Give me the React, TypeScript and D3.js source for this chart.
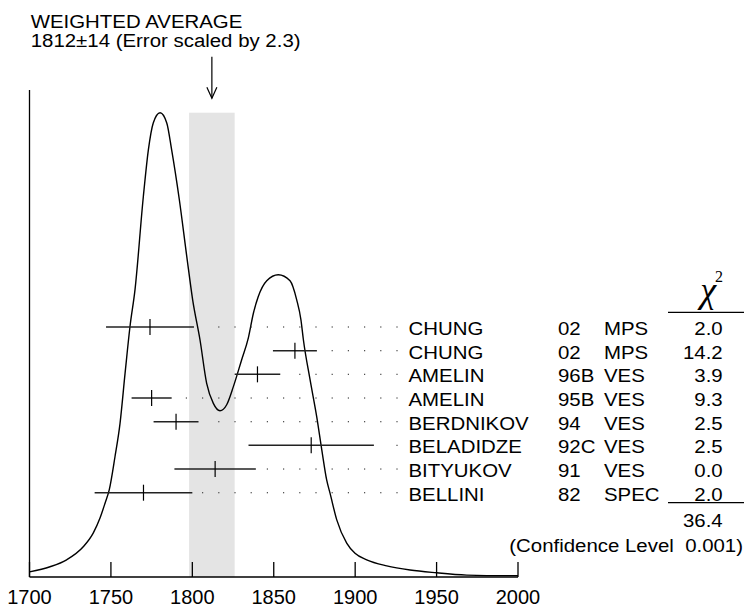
import React from 'react';
import * as d3 from 'd3';

// ideogram curve (mass, relative density)
const curveMass = [
  1700, 1712.6, 1722.8, 1733, 1739.2, 1743.3, 1746.4, 1749, 1752.5, 1755.6, 1758.7, 1761.7,
  1764.8, 1769.9, 1773, 1776, 1780.2, 1784.3, 1787.3, 1792, 1796.6, 1800.2, 1804.7, 1808.8,
  1812.9, 1817, 1821.1, 1825.2, 1830.3, 1834.4, 1837.5, 1840.5, 1845.7, 1852.8, 1860, 1864.1,
  1866.7, 1868.2, 1872.3, 1876.4, 1879.5, 1882.5, 1884.6, 1888.7, 1894.8, 1899.9, 1907.1,
  1919.4, 1933.7, 1950.1, 1968.5, 1980.8, 2000,
];
const curveDensity = [
  0.011, 0.022, 0.037, 0.065, 0.095, 0.127, 0.159, 0.188, 0.259, 0.331, 0.439, 0.539,
  0.619, 0.819, 0.92, 0.978, 1.0, 0.978, 0.92, 0.813, 0.69, 0.597, 0.511, 0.417,
  0.374, 0.358, 0.371, 0.41, 0.468, 0.515, 0.568, 0.604, 0.638, 0.651, 0.638, 0.597,
  0.554, 0.511, 0.425, 0.345, 0.274, 0.209, 0.18, 0.123, 0.073, 0.051, 0.037,
  0.024, 0.015, 0.009, 0.004, 0.003, 0.003,
];

// measurements
const names = ['CHUNG', 'CHUNG', 'AMELIN', 'AMELIN', 'BERDNIKOV', 'BELADIDZE', 'BITYUKOV', 'BELLINI'];
const years = ['02', '02', '96B', '95B', '94', '92C', '91', '82'];
const experiments = ['MPS', 'MPS', 'VES', 'VES', 'VES', 'VES', 'VES', 'SPEC'];
const values = [1774, 1863, 1840, 1775, 1790, 1873, 1814, 1770];
const errors = [27, 13.5, 14, 12.3, 13.8, 38.5, 25, 30];
const chi2 = ['2.0', '14.2', '3.9', '9.3', '2.5', '2.5', '0.0', '2.0'];

const average = 1812;
const averageError = 14;
const chi2Total = '36.4';
const confidence = '0.001';
const xTicks = [1700, 1750, 1800, 1850, 1900, 1950, 2000];

const W = 744;
const H = 607;
const SANS = "'Liberation Sans', Arial, Helvetica, sans-serif";
const SERIF = "'Liberation Serif', 'Times New Roman', serif";

// sans text drawn a little wide, like the original Helvetica
const T = ({ x, y, anchor = 'start', children }: any) => (
  <text
    transform={`translate(${x},${y}) scale(1.11,1)`}
    textAnchor={anchor}
    fontFamily={SANS}
    fontSize={18.4}
    fill="#000"
    style={{ whiteSpace: 'pre' }}
  >
    {children}
  </text>
);

export default function App() {
  const x = d3.scaleLinear().domain([1700, 2000]).range([29.5, 518]);
  const y = d3.scaleLinear().domain([0, 1]).range([577, 112.7]);
  const rowY = d3.scalePoint<number>().domain(d3.range(names.length)).range([327, 492.7]);

  const pts = curveMass.map((m, i) => [m, curveDensity[i]] as [number, number]);
  const line = d3.line<[number, number]>()
    .x(d => x(d[0]))
    .y(d => y(d[1]))
    .curve(d3.curveMonotoneX);

  // dotted leaders on a fixed grid, ending just before the labels
  const dotEnd = 397;
  const dotStep = 16.2;
  const leaders = values.map((v, i) => {
    const right = x(v + errors[i]);
    const dots: number[] = [];
    for (let px = dotEnd; px > right + 10; px -= dotStep) dots.push(px);
    return dots;
  });

  const col = { name: 408.5, year: 558, exp: 604, chi: 722.7 };
  const avgX = x(average);

  return (
    <svg
      width={W}
      height={H}
      style={{ position: 'absolute', left: 0, top: 0, background: '#fff' }}
    >
      {/* error-scaled average band */}
      <rect
        x={x(average - averageError)}
        y={y(1)}
        width={x(average + averageError) - x(average - averageError)}
        height={y(0) - y(1)}
        fill="#e4e4e4"
      />

      {/* title + arrow */}
      <T x={30.7} y={28.3}>WEIGHTED AVERAGE</T>
      <T x={30.7} y={46.7}>{`${average}±${averageError} (Error scaled by 2.3)`}</T>
      <g stroke="#000" strokeWidth={1.2} fill="none">
        <line x1={avgX} x2={avgX} y1={56.7} y2={98.3} />
        <polyline points={`${avgX - 5},${87.3} ${avgX},${98.3} ${avgX + 5},${87.3}`} />
      </g>

      {/* axes */}
      <g stroke="#000" strokeWidth={1.3}>
        <line x1={x(1700)} x2={x(1700)} y1={90} y2={y(0)} />
        <line x1={x(1700)} x2={x(2000)} y1={y(0)} y2={y(0)} />
        {xTicks.map(t => (
          <line key={t} x1={x(t)} x2={x(t)} y1={y(0)} y2={y(0) - 15} />
        ))}
      </g>
      {xTicks.map(t => (
        <text
          key={t}
          x={x(t)}
          y={604}
          textAnchor="middle"
          fontFamily={SANS}
          fontSize={20}
        >
          {t}
        </text>
      ))}

      {/* ideogram */}
      <path d={line(pts) || ''} fill="none" stroke="#000" strokeWidth={1.4} />

      {/* measurements */}
      {values.map((v, i) => {
        const cy = rowY(i)!;
        return (
          <g key={i}>
            <line x1={x(v - errors[i])} x2={x(v + errors[i])} y1={cy} y2={cy} stroke="#222" strokeWidth={1.5} />
            <line x1={x(v)} x2={x(v)} y1={cy - 8} y2={cy + 8} stroke="#000" strokeWidth={1.2} />
            {leaders[i].map(px => (
              <rect key={px} x={px - 0.6} y={cy - 0.6} width={1.2} height={1.2} fill="#444" />
            ))}
            <T x={col.name} y={cy + 8}>{names[i]}</T>
            <T x={col.year} y={cy + 8}>{years[i]}</T>
            <T x={col.exp} y={cy + 8}>{experiments[i]}</T>
            <T x={col.chi} y={cy + 8} anchor="end">{chi2[i]}</T>
          </g>
        );
      })}

      {/* chi-square column */}
      <text x={716} y={302} textAnchor="end" fontFamily={SERIF} fontStyle="italic" fontSize={36}>χ</text>
      <text x={715} y={282} fontFamily={SERIF} fontSize={16}>2</text>
      <g stroke="#000" strokeWidth={1.3}>
        <line x1={668} x2={744} y1={312.3} y2={312.3} />
        <line x1={668} x2={744} y1={502.7} y2={502.7} />
      </g>
      <T x={col.chi} y={527.3} anchor="end">{chi2Total}</T>
      <T x={743} y={551.7} anchor="end">{`(Confidence Level  ${confidence})`}</T>
    </svg>
  );
}
